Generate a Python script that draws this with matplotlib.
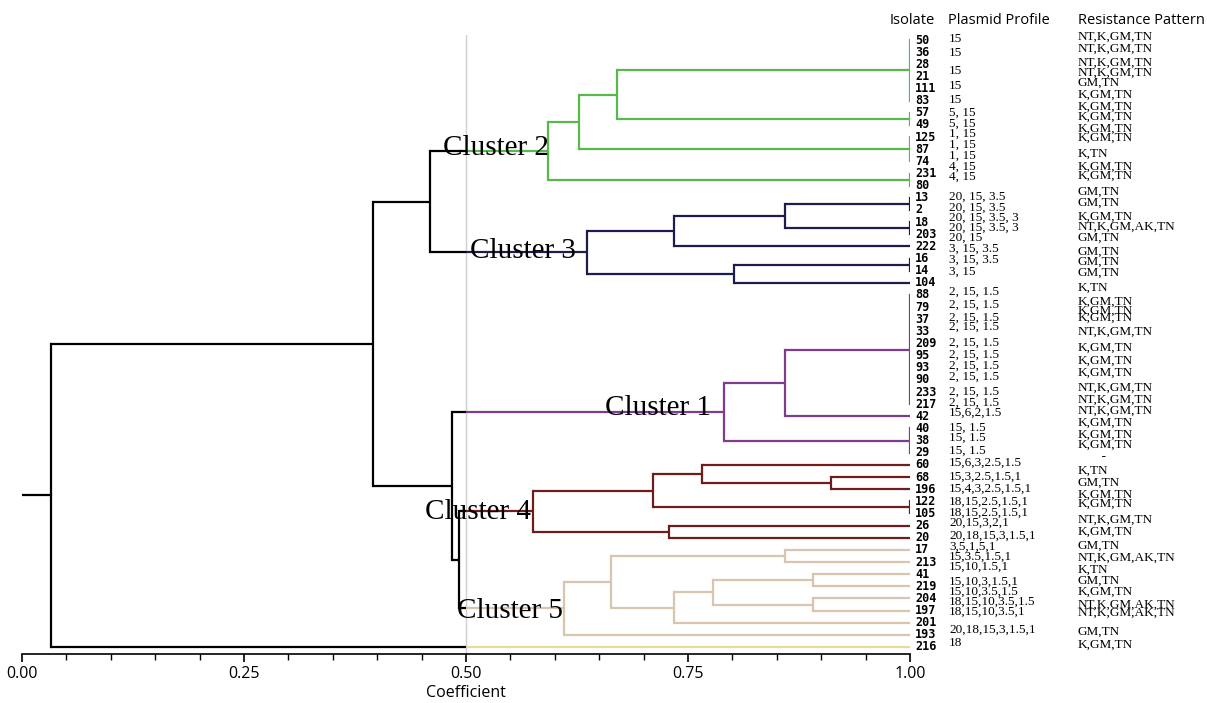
import matplotlib.pyplot as plt
from matplotlib.ticker import MultipleLocator, FormatStrFormatter

# leaves, top to bottom
isolates = ["50", "36", "28", "21", "111", "83", "57", "49", "125", "87", "74", "231", "80",
            "13", "2", "18", "203", "222", "16", "14", "104",
            "88", "79", "37", "33", "209", "95", "93", "90", "233", "217", "42", "40", "38", "29",
            "60", "68", "196", "122", "105", "26", "20",
            "17", "213", "41", "219", "204", "197", "201", "193",
            "216"]

plasmid_profiles = ["15", "15", "15", "15", "15", "5, 15", "5, 15", "1, 15", "1, 15", "1, 15", "4, 15", "4, 15",
                    "20, 15, 3.5", "20, 15, 3.5", "20, 15, 3.5, 3", "20, 15, 3.5, 3", "20, 15",
                    "3, 15, 3.5", "3, 15, 3.5", "3, 15",
                    "2, 15, 1.5", "2, 15, 1.5", "2, 15, 1.5", "2, 15, 1.5", "2, 15, 1.5",
                    "2, 15, 1.5", "2, 15, 1.5", "2, 15, 1.5", "2, 15, 1.5", "2, 15, 1.5",
                    "15,6,2,1.5", "15, 1.5", "15, 1.5", "15, 1.5",
                    "15,6,3,2.5,1.5", "15,3,2.5,1.5,1", "15,4,3,2.5,1.5,1", "18,15,2.5,1.5,1",
                    "18,15,2.5,1.5,1", "20,15,3,2,1", "20,18,15,3,1.5,1",
                    "3,5,1,5,1", "15,3.5,1.5,1", "15,10,1.5,1", "15,10,3,1.5,1", "15,10,3.5,1.5",
                    "18,15,10,3.5,1.5", "18,15,10,3.5,1", "20,18,15,3,1.5,1",
                    "18"]
# row position of each plasmid entry (they do not sit exactly on the leaf rows)
plasmid_rows = [-0.1, 1.1, 2.55, 3.8, 4.95, 6.0, 6.9, 7.75, 8.65, 9.55, 10.45, 11.3,
                12.95, 13.85, 14.6, 15.5, 16.3, 17.2, 18.1, 19.1,
                20.75, 21.8, 22.9, 23.65, 24.9, 25.95, 26.8, 27.75, 29.0, 29.9, 30.7, 31.9, 32.8, 33.85,
                34.85, 36.0, 37.0, 38.05, 38.9, 39.8, 40.8,
                41.75, 42.6, 43.4, 44.65, 45.45, 46.3, 47.1, 48.6,
                49.7]

resistance_patterns = ["NT,K,GM,TN", "NT,K,GM,TN", "NT,K,GM,TN", "NT,K,GM,TN", "GM,TN", "K,GM,TN",
                       "K,GM,TN", "K,GM,TN", "K,GM,TN", "K,GM,TN", "K,TN", "K,GM,TN", "K,GM,TN",
                       "GM,TN", "GM,TN", "K,GM,TN", "NT,K,GM,AK,TN", "GM,TN", "GM,TN", "GM,TN", "GM,TN",
                       "K,TN", "K,GM,TN", "K,GM,TN", "K,GM,TN", "NT,K,GM,TN", "K,GM,TN", "K,GM,TN",
                       "K,GM,TN", "NT,K,GM,TN", "NT,K,GM,TN", "NT,K,GM,TN", "K,GM,TN", "K,GM,TN", "K,GM,TN",
                       "       -", "K,TN", "GM,TN", "K,GM,TN", "K,GM,TN", "NT,K,GM,TN", "K,GM,TN",
                       "GM,TN", "NT,K,GM,AK,TN", "K,TN", "GM,TN", "K,GM,TN", "NT,K,GM,AK,TN",
                       "NT,K,GM,AK,TN", "GM,TN",
                       "K,GM,TN"]
resistance_rows = [-0.25, 0.74, 1.89, 2.72, 3.54, 4.53, 5.52, 6.34, 7.33, 8.07, 9.39, 10.46, 11.2,
                   12.52, 13.43, 14.58, 15.4, 16.31, 17.46, 18.29, 19.19,
                   20.43, 21.58, 22.32, 22.9, 24.05, 25.37, 26.44, 27.43, 28.67, 29.65, 30.56, 31.55,
                   32.54, 33.36,
                   34.35, 35.5, 36.49, 37.48, 38.22, 39.54, 40.53,
                   41.68, 42.67, 43.66, 44.56, 45.47, 46.54, 47.2, 48.76,
                   49.84]

# merges: (node, children top->bottom, similarity coefficient)
merges = [
    ("c2a", ["50", "36", "28", "21", "111", "83"], 1.00),
    ("c2b", ["57", "49"], 1.00),
    ("c2c", ["c2a", "c2b"], 0.670),
    ("c2d", ["125", "87", "74"], 1.00),
    ("c2e", ["c2c", "c2d"], 0.627),
    ("c2f", ["231", "80"], 1.00),
    ("cl2", ["c2e", "c2f"], 0.592),
    ("c3a", ["13", "2"], 1.00),
    ("c3b", ["18", "203"], 1.00),
    ("c3c", ["c3a", "c3b"], 0.859),
    ("c3d", ["c3c", "222"], 0.734),
    ("c3e", ["16", "14"], 1.00),
    ("c3f", ["c3e", "104"], 0.802),
    ("cl3", ["c3d", "c3f"], 0.636),
    ("c1a", ["88", "79", "37", "33", "209", "95", "93", "90", "233", "217"], 1.00),
    ("c1b", ["c1a", "42"], 0.859),
    ("c1c", ["40", "38", "29"], 1.00),
    ("cl1", ["c1b", "c1c"], 0.790),
    ("c4a", ["68", "196"], 0.911),
    ("c4b", ["60", "c4a"], 0.766),
    ("c4c", ["122", "105"], 1.00),
    ("c4d", ["c4b", "c4c"], 0.711),
    ("c4e", ["26", "20"], 0.729),
    ("cl4", ["c4d", "c4e"], 0.575),
    ("c5a", ["17", "213"], 0.859),
    ("c5b", ["41", "219"], 0.891),
    ("c5c", ["204", "197"], 0.891),
    ("c5d", ["c5b", "c5c"], 0.778),
    ("c5e", ["c5d", "201"], 0.734),
    ("c5f", ["c5a", "c5e"], 0.663),
    ("cl5", ["c5f", "193"], 0.610),
    ("n23", ["cl2", "cl3"], 0.459),
    ("n45", ["cl4", "cl5"], 0.492),
    ("n145", ["cl1", "n45"], 0.484),
    ("n12345", ["n23", "n145"], 0.395),
    ("root", ["n12345", "216"], 0.033),
]

cluster_roots = ["cl1", "cl2", "cl3", "cl4", "cl5", "216"]
cluster_colors = ["#7d3c8f", "#58b84c", "#1c1c4e", "#6e1c1c", "#d9c4ae", "#e0e09a"]
cluster_names = ["Cluster 1", "Cluster 2", "Cluster 3", "Cluster 4", "Cluster 5"]
cut_value = 0.50

# --- figure / axes (pixel layout of the original)
W, H = 1207, 703
x0_px, x1_px = 22, 910
row0_px, row_px = 40, 12.14
top_px, bot_px = 35, 654

fig = plt.figure(figsize=(W / 100, H / 100), dpi=100)
ax = fig.add_axes([x0_px / W, 1 - bot_px / H, (x1_px - x0_px) / W, (bot_px - top_px) / H])
ax.set_xlim(0, 1)
ax.set_ylim((bot_px - row0_px) / row_px, (top_px - row0_px) / row_px)

# --- tree positions
children = {n: ch for n, ch, c in merges}
coef = {n: c for n, ch, c in merges}
ypos = {name: i for i, name in enumerate(isolates)}
xpos = {name: 1.0 for name in isolates}
for n, ch, c in merges:
    ypos[n] = (ypos[ch[0]] + ypos[ch[-1]]) / 2
    xpos[n] = c

color = {}
def paint(node, col):
    color[node] = col
    for k in children.get(node, []):
        paint(k, col)

for r, col in zip(cluster_roots, cluster_colors):
    paint(r, col)

lw = 1.6
def hline(y, xa, xb, col):
    # black left of the cut, cluster colour right of it
    if xb <= xa:
        return
    if xa < cut_value < xb:
        ax.plot([xa, cut_value], [y, y], color="black", lw=lw, solid_capstyle="butt")
        ax.plot([cut_value, xb], [y, y], color=col, lw=lw, solid_capstyle="butt")
    elif xa >= cut_value:
        ax.plot([xa, xb], [y, y], color=col, lw=lw, solid_capstyle="butt")
    else:
        ax.plot([xa, xb], [y, y], color="black", lw=lw, solid_capstyle="butt")

for n, ch, c in merges:
    vcol = color.get(n, "black") if c >= cut_value else "black"
    ax.plot([c, c], [ypos[ch[0]], ypos[ch[-1]]], color=vcol, lw=lw, solid_capstyle="projecting")
    for k in ch:
        hline(ypos[k], c, xpos[k], color.get(k, "black"))

# stub to the left of the root
ax.plot([0, coef["root"]], [ypos["root"], ypos["root"]], color="black", lw=lw)

# cut line
ax.axvline(cut_value, color="#cfcfcf", lw=1, zorder=0)

# cluster labels
label_x = [0.6565, 0.474, 0.5045, 0.4538, 0.4899]
label_y = [30.89, 9.47, 17.96, 39.46, 47.6]
for name, lx, ly in zip(cluster_names, label_x, label_y):
    ax.text(lx, ly, name, fontsize=21, family="Liberation Serif", ha="left", va="baseline", zorder=5)

# right-hand text columns
isolate_x = (915 - x0_px) / (x1_px - x0_px)
plasmid_x = (949 - x0_px) / (x1_px - x0_px)
resist_x = (1078 - x0_px) / (x1_px - x0_px)
for name in isolates:
    ax.text(isolate_x, ypos[name], name, fontsize=8.5, family="DejaVu Sans Mono",
            fontweight="bold", ha="left", va="center")
for txt, r in zip(plasmid_profiles, plasmid_rows):
    ax.text(plasmid_x, r, txt, fontsize=9.5, family="Liberation Serif", ha="left", va="center")
for txt, r in zip(resistance_patterns, resistance_rows):
    ax.text(resist_x, r, txt, fontsize=9.5, family="Liberation Serif", ha="left", va="center")

header_y = (20 - row0_px) / row_px
ax.text((890 - x0_px) / (x1_px - x0_px), header_y, "Isolate", fontsize=10.5, family="Open Sans",
        ha="left", va="center")
ax.text((948 - x0_px) / (x1_px - x0_px), header_y, "Plasmid Profile", fontsize=10.5, family="Open Sans",
        ha="left", va="center")
ax.text(resist_x, header_y, "Resistance Pattern", fontsize=10.5, family="Open Sans",
        ha="left", va="center")

# axis styling
for s in ["left", "top", "right"]:
    ax.spines[s].set_visible(False)
ax.spines["bottom"].set_linewidth(1.2)
ax.set_yticks([])
ax.xaxis.set_major_locator(MultipleLocator(0.25))
ax.xaxis.set_minor_locator(MultipleLocator(0.05))
ax.xaxis.set_major_formatter(FormatStrFormatter("%.2f"))
ax.tick_params(axis="x", which="major", length=6, width=1.2, pad=3, labelsize=11.5)
ax.tick_params(axis="x", which="minor", length=4, width=1)
for lab in ax.get_xticklabels():
    lab.set_family("Open Sans")
ax.set_xlabel("Coefficient", fontsize=11.5, family="Open Sans", va="center")
ax.xaxis.set_label_coords(0.5, (bot_px - 693) / (bot_px - top_px))

fig.savefig("out.png", dpi=100)
